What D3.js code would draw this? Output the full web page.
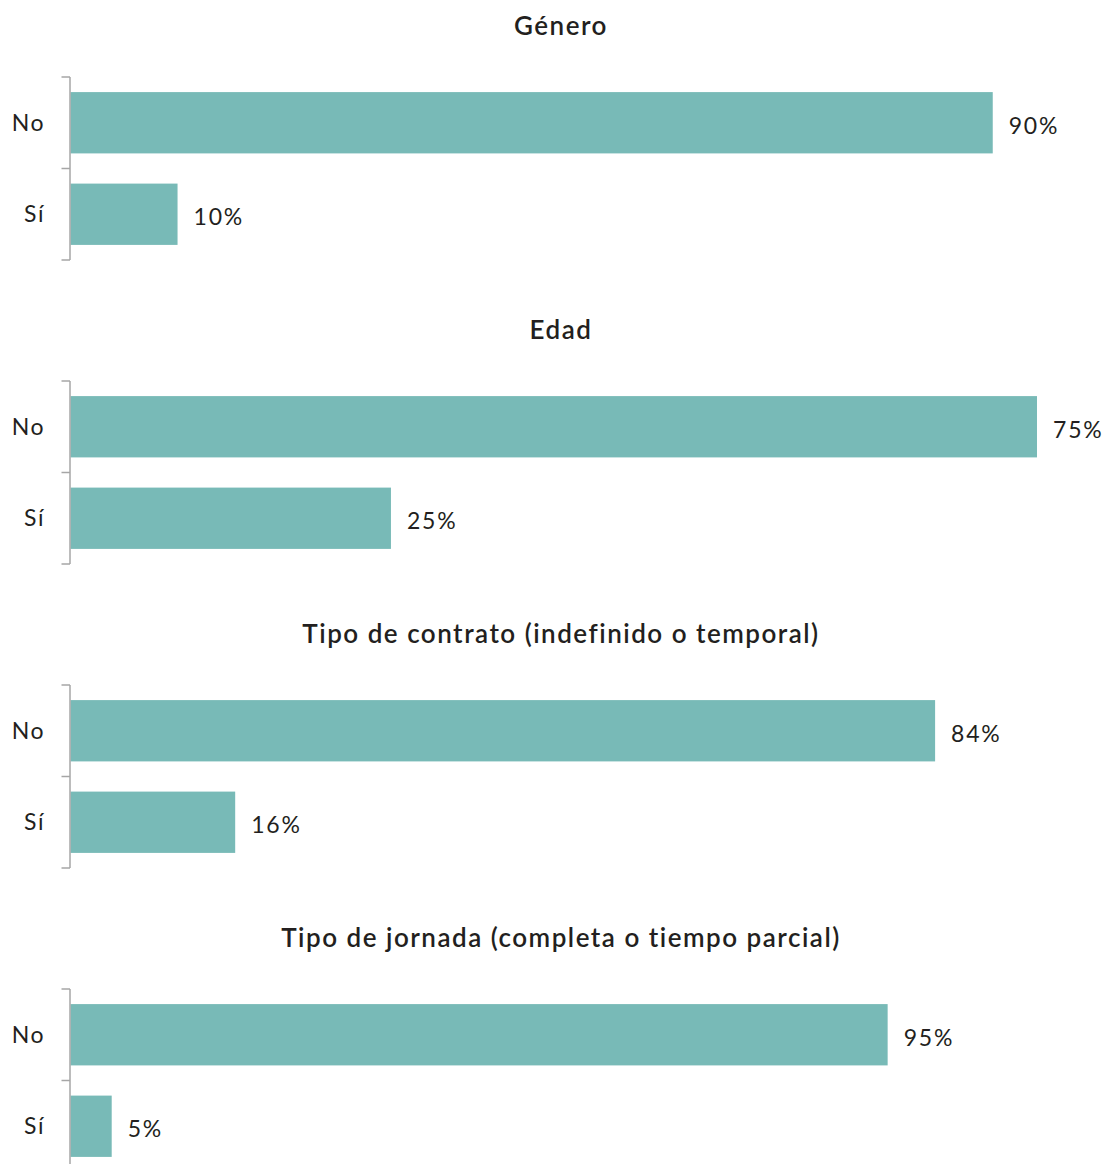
<!DOCTYPE html>
<html>
<head>
<meta charset="utf-8">
<script src="https://cdn.jsdelivr.net/npm/d3@7"></script>
<style>
  html, body { margin: 0; padding: 0; background: #fff; }
  svg { display: block; }
  text { font-family: Lato, "Open Sans", sans-serif; fill: #231f20; }
</style>
</head>
<body>
<svg id="chart" width="1109" height="1164"></svg>
<script>
// ---- data ----
const panelTitles = [
  "Género",
  "Edad",
  "Tipo de contrato (indefinido o temporal)",
  "Tipo de jornada (completa o tiempo parcial)"
];
const categories = ["No", "Sí"];
const genero = [89.6, 10.4];
const edad = [75.1, 24.9];
const contrato = [84, 16];
const jornada = [95.2, 4.8];
const seriesValues = [genero, edad, contrato, jornada];
// axis maximum used by each panel (each panel has its own scale)
const axisMax = [93.9, 75.1, 93.9, 112.6];

// ---- layout ----
const left = 70.5, right = 1037;
const firstTop = 77, panelStep = 304, axisLen = 183;
const barColor = "#78bab7";

const svg = d3.select("#chart");
const fmt = v => d3.format(".0f")(v) + "%";

seriesValues.forEach((vals, i) => {
  const top = firstTop + panelStep * i;
  const g = svg.append("g");

  const y = d3.scaleBand()
    .domain(categories)
    .range([top, top + axisLen])
    .paddingInner(0.33)
    .paddingOuter(0.165);

  const x = d3.scaleLinear()
    .domain([0, axisMax[i]])
    .range([left, right]);

  // title
  g.append("text")
    .attr("x", 561)
    .attr("y", top - 42)
    .attr("text-anchor", "middle")
    .style("font-size", "26px")
    .style("font-weight", "600")
    .style("letter-spacing", "1.5px")
    .text(panelTitles[i]);

  const data = categories.map((c, k) => ({ cat: c, v: vals[k] }));

  // bars
  g.selectAll("rect.bar").data(data).join("rect")
    .attr("class", "bar")
    .attr("x", x(0))
    .attr("y", d => y(d.cat))
    .attr("width", d => x(d.v) - x(0))
    .attr("height", y.bandwidth())
    .attr("fill", barColor);

  // value labels
  g.selectAll("text.val").data(data).join("text")
    .attr("class", "val")
    .attr("x", d => x(d.v) + 16)
    .attr("y", d => y(d.cat) + y.bandwidth() / 2 + 3)
    .attr("dy", "0.35em")
    .style("font-size", "23px")
    .style("letter-spacing", "1.8px")
    .text(d => fmt(d.v));

  // axis line + ticks at band boundaries
  const axisG = g.append("g").attr("class", "axis");
  axisG.append("line")
    .attr("x1", left - 0.5).attr("x2", left - 0.5)
    .attr("y1", top).attr("y2", top + axisLen)
    .attr("stroke", "#a6a6a6").attr("stroke-width", 1.5);
  const boundaries = [top, y(categories[1]) - y.step() * y.paddingInner() / 2, top + axisLen];
  axisG.selectAll("line.tick").data(boundaries).join("line")
    .attr("class", "tick")
    .attr("x1", left - 9).attr("x2", left - 0.5)
    .attr("y1", d => d).attr("y2", d => d)
    .attr("stroke", "#a6a6a6").attr("stroke-width", 1.5);

  // category labels
  axisG.selectAll("text.cat").data(categories).join("text")
    .attr("class", "cat")
    .attr("x", 45)
    .attr("y", d => y(d) + y.bandwidth() / 2)
    .attr("dy", "0.35em")
    .attr("text-anchor", "end")
    .style("font-size", "23px")
    .style("letter-spacing", "1.5px")
    .text(d => d);
});
</script>
</body>
</html>
